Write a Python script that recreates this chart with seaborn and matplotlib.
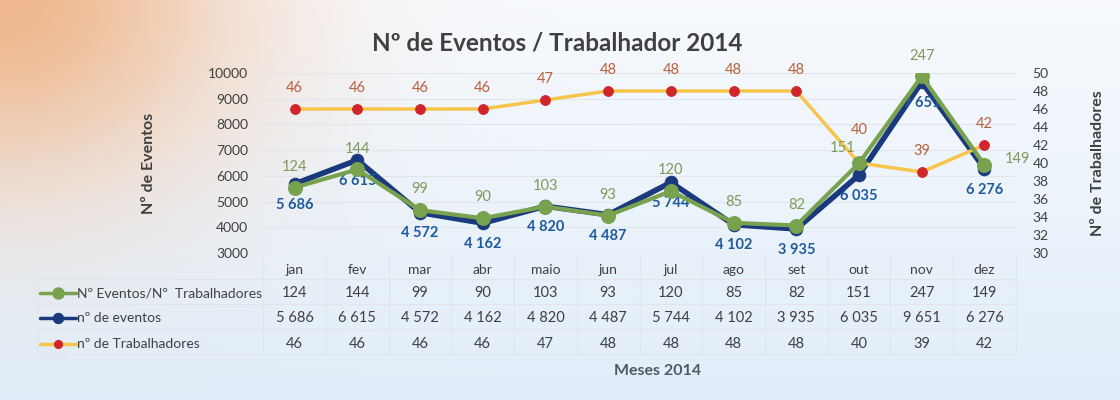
import numpy as np
import pandas as pd
import seaborn as sns
import matplotlib.pyplot as plt
from matplotlib.lines import Line2D
from matplotlib.transforms import blended_transform_factory

# Data
months = ['jan', 'fev', 'mar', 'abr', 'maio', 'jun', 'jul', 'ago', 'set', 'out', 'nov', 'dez']
ratio = [124, 144, 99, 90, 103, 93, 120, 85, 82, 151, 247, 149]
eventos = [5686, 6615, 4572, 4162, 4820, 4487, 5744, 4102, 3935, 6035, 9651, 6276]
trabalhadores = [46, 46, 46, 46, 47, 48, 48, 48, 48, 40, 39, 42]

left_ticks = [3000, 4000, 5000, 6000, 7000, 8000, 9000, 10000]
right_ticks = [30, 32, 34, 36, 38, 40, 42, 44, 46, 48, 50]

df = pd.DataFrame({'mes': months, 'ratio': ratio, 'eventos': eventos, 'trab': trabalhadores})

sns.set_theme(style='white')
plt.rcParams['font.family'] = ['Lato', 'DejaVu Sans']

GREEN = '#78a24e'
NAVY = '#1b3a7e'
YELLOW = '#f7c54d'
RED = '#d0262b'
TXT = '#404040'

fig = plt.figure(figsize=(11.2, 4), dpi=100)

# background gradient (peach corner fading into light blue)
bg = fig.add_axes([0, 0, 1, 1], zorder=-10)
yy, xx = np.mgrid[0:400, 0:1120]
w = np.exp(-((xx / 240.0) ** 2 + (yy / 190.0) ** 2)) * 0.8
v = np.clip(yy / 400.0, 0, 1)
base = np.stack([0.97 - 0.09 * v, 0.98 - 0.05 * v, 0.995 - 0.02 * v], axis=-1)
peach = np.array([0.93, 0.66, 0.45])
img = base * (1 - w[..., None]) + peach * w[..., None]
bg.imshow(img, aspect='auto', extent=[0, 1, 0, 1])
bg.axis('off')

ax = fig.add_axes([0.235, 0.3675, 0.672, 0.45])
ax.set_facecolor('none')
ax2 = ax.twinx()
ax3 = ax.twinx()

sns.lineplot(data=df, x='mes', y='eventos', ax=ax, color=NAVY, lw=4, marker='o',
             markersize=9, markeredgecolor=NAVY, sort=False, zorder=3)
sns.lineplot(data=df, x='mes', y='trab', ax=ax2, color=YELLOW, lw=2.5, marker='o',
             markersize=7, markerfacecolor=RED, markeredgecolor=RED, sort=False, zorder=3)
sns.lineplot(data=df, x='mes', y='ratio', ax=ax3, color=GREEN, lw=3, marker='o',
             markersize=10, markeredgecolor=GREEN, sort=False, zorder=4)

ax.set_ylim(3000, 10000)
ax2.set_ylim(30, 50)
ax3.set_ylim(51.6, 250.7)
ax.set_xlim(-0.5, 11.5)
ax.set_yticks(left_ticks)
ax2.set_yticks(right_ticks)
ax3.axis('off')

for a in (ax, ax2):
    for s in a.spines.values():
        s.set_visible(False)
    a.tick_params(length=0, labelsize=10, labelcolor=TXT)
ax.tick_params(axis='y', pad=11)
ax2.tick_params(axis='y', pad=12)
ax.tick_params(axis='x', pad=8)
ax.yaxis.grid(True, color='#e2e6ea', lw=0.8)
ax.set_xlabel('')
ax.set_ylabel('Nº de Eventos', fontsize=11.5, fontweight='bold', color=TXT)
ax.yaxis.set_label_coords(-0.143, 0.5)
ax2.set_ylabel('Nº de Trabalhadores', fontsize=11.5, fontweight='bold', color=TXT)
ax2.yaxis.set_label_coords(1.1, 0.5)

# data labels
for i, m in enumerate(months):
    ax.annotate(f'{eventos[i]:,}'.replace(',', ' '), (i, eventos[i]), xytext=(0, -15),
                textcoords='offset points', ha='center', va='center', fontsize=10.5,
                fontweight='bold', color='#1f5a9e', zorder=6)
    off_t = (0, 24) if m == 'out' else (0, 15)
    ax2.annotate(str(trabalhadores[i]), (i, trabalhadores[i]), xytext=off_t,
                 textcoords='offset points', ha='center', va='center', fontsize=10.5,
                 color='#b8603a', zorder=6)
    off_r = (0, 15)
    if m == 'out':
        off_r = (-12, 11)
    if m == 'dez':
        off_r = (24, 4)
    ax3.annotate(str(ratio[i]), (i, ratio[i]), xytext=off_r, textcoords='offset points',
                 ha='center', va='center', fontsize=10.5, color='#7d9a58', zorder=6)

ax.set_title('Nº de Eventos / Trabalhador 2014', fontsize=17.5, fontweight='bold',
             color=TXT, pad=16, x=0.39)

# data table below the chart
tr = blended_transform_factory(ax.transData, fig.transFigure)
rows_y = [1 - 293 / 400, 1 - 318 / 400, 1 - 344 / 400]
table_rows = [[str(v) for v in ratio],
              [f'{v:,}'.replace(',', ' ') for v in eventos],
              [str(v) for v in trabalhadores]]
for ry, vals in zip(rows_y, table_rows):
    for i, v in enumerate(vals):
        fig.text(i, ry, v, transform=tr, ha='center', va='center', fontsize=10.5, color=TXT)

leg_names = ['Nº Eventos/Nº  Trabalhadores', 'nº de eventos', 'nº de Trabalhadores']
leg_style = [(GREEN, GREEN, 10), (NAVY, NAVY, 9), (YELLOW, RED, 7)]
for ry, name, (lc, mc, ms) in zip(rows_y, leg_names, leg_style):
    fig.add_artist(Line2D([40 / 1120, 76 / 1120], [ry, ry], color=lc, lw=2.5))
    fig.add_artist(Line2D([58 / 1120], [ry], marker='o', color=mc, markersize=ms * 0.8))
    fig.text(77 / 1120, ry, name, ha='left', va='center', fontsize=10, color=TXT)

grid_c = '#e1e6ec'
for gy in [279, 304, 329, 354]:
    fig.add_artist(Line2D([37 / 1120, 1016 / 1120], [1 - gy / 400] * 2, color=grid_c, lw=0.8))
for i in range(len(months) + 1):
    fig.add_artist(Line2D([i - 0.5, i - 0.5], [1 - 256 / 400, 1 - 354 / 400], color=grid_c,
                          lw=0.8, transform=tr))
fig.add_artist(Line2D([37 / 1120] * 2, [1 - 279 / 400, 1 - 354 / 400], color=grid_c, lw=0.8))

fig.text(0.5875, 1 - 371 / 400, 'Meses 2014', ha='center', va='center', fontsize=11.5,
         fontweight='bold', color='#505a66')

fig.savefig('out.png', dpi=100)
